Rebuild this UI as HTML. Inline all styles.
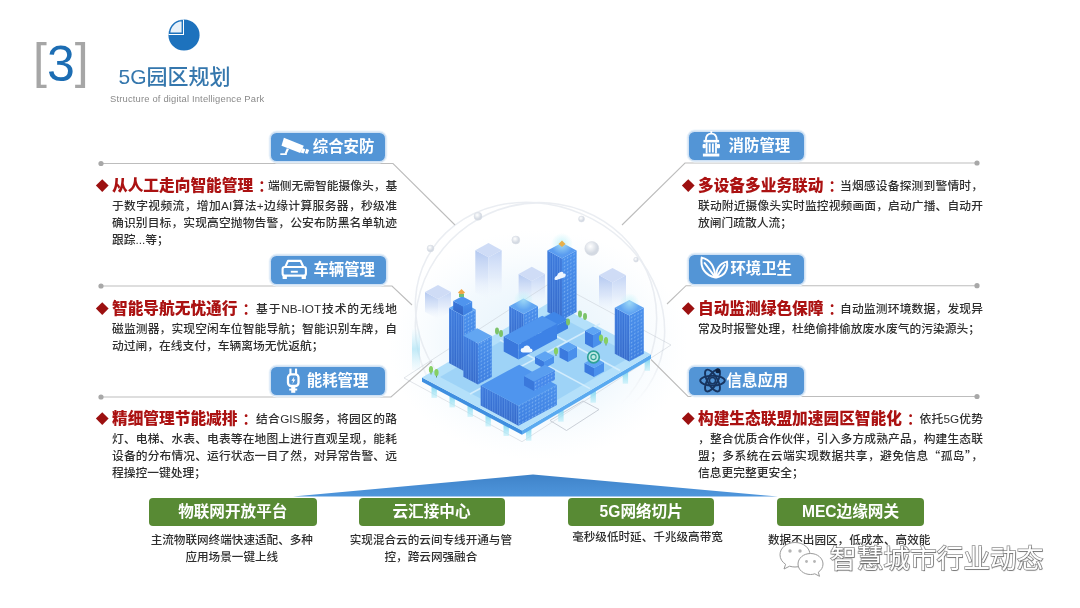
<!DOCTYPE html>
<html lang="zh-CN"><head><meta charset="utf-8"><title>5G园区规划</title>
<style>
*{margin:0;padding:0;box-sizing:border-box}
html,body{width:1080px;height:608px;overflow:hidden;background:#fff}
body{position:relative;filter:blur(.45px);font-family:"Liberation Sans","Noto Sans CJK SC",sans-serif;color:#333}
.abs{position:absolute;white-space:nowrap}
.num{left:33px;top:34px;font-size:50px;line-height:60px;color:#1c6db3;letter-spacing:0}
.num i{font-style:normal;color:#a6a6a6;font-weight:400;position:relative;top:-3px}
.ttl{left:118.5px;top:61.5px;font-size:21px;line-height:30px;color:#3577ad;font-weight:500}
.sub{left:110px;top:93px;font-size:9.4px;line-height:12px;color:#8a8a8a;letter-spacing:.18px}
.lab{height:28.2px;border-radius:5.5px;background:#5395d6;box-shadow:0 0 0 1.4px #cfe1f4,0 0 0 2.4px #eef5fb;color:#fff;font-weight:700;font-size:15.4px;line-height:28px}
.lab span{position:absolute;top:0}
.lab svg{position:absolute;left:0;top:0}
.para{font-size:11.75px;line-height:17px;color:#2e2e2e;font-weight:500}
.para b{font-size:15.7px;color:#ab1212;font-weight:900;letter-spacing:0}
.para .c{color:#ab1212;font-weight:700;font-size:14.5px;display:inline-block;width:10px;margin-left:5px}
.para .l1{height:22.3px;line-height:22px;position:relative}
.q{font-family:"Noto Sans CJK SC",sans-serif;line-height:1px}
.para .ln{height:16.9px}
.para .j{position:absolute;top:0;text-align:justify;text-align-last:justify}
.para .j2{text-align:justify;text-align-last:justify}
.dia{width:8.5px;height:8.5px;background:#9c1010;transform:rotate(45deg)}
.g{height:27.4px;border-radius:4px;background:#588a34;color:#fff;font-weight:700;font-size:15.6px;line-height:27px;text-align:center}
.gs{font-size:11.6px;line-height:16.3px;color:#2e2e2e;font-weight:500;text-align:center}
.wm{left:830px;top:541px;font-size:26.7px;line-height:36px;color:#fff;font-weight:400;-webkit-text-stroke:1.5px #909090;paint-order:stroke fill;text-shadow:.8px .8px 1px rgba(0,0,0,.28)}
</style></head><body>
<svg class="abs" style="left:0;top:0" width="1080" height="608" viewBox="0 0 1080 608">
<defs>
<linearGradient id="fl" x1="0" y1="0" x2="0" y2="1"><stop offset="0" stop-color="#3a78dc"/><stop offset="1" stop-color="#3468c8"/></linearGradient>
<linearGradient id="fr" x1="0" y1="0" x2="0" y2="1"><stop offset="0" stop-color="#4a90ec"/><stop offset="1" stop-color="#3d7ee0"/></linearGradient>
<linearGradient id="gl" x1="0" y1="0" x2="0" y2="1"><stop offset="0" stop-color="#b3c8f0"/><stop offset=".55" stop-color="#d6e2f8" stop-opacity=".8"/><stop offset="1" stop-color="#eef4fd" stop-opacity="0"/></linearGradient>
<linearGradient id="gr" x1="0" y1="0" x2="0" y2="1"><stop offset="0" stop-color="#c3d4f5"/><stop offset=".55" stop-color="#dfe9fa" stop-opacity=".8"/><stop offset="1" stop-color="#f2f7fe" stop-opacity="0"/></linearGradient>
<linearGradient id="pil" x1="0" y1="0" x2="0" y2="1"><stop offset="0" stop-color="#86d8f0"/><stop offset="1" stop-color="#b5ecf8" stop-opacity=".55"/></linearGradient>
<linearGradient id="beam" x1="0" y1="0" x2="0" y2="1"><stop offset="0" stop-color="#bfeaf8" stop-opacity="0"/><stop offset=".5" stop-color="#a9e2f5" stop-opacity=".7"/><stop offset="1" stop-color="#bfeaf8" stop-opacity=".1"/></linearGradient>
<radialGradient id="glw"><stop offset="0" stop-color="#b8f0f8" stop-opacity=".95"/><stop offset="1" stop-color="#b8f0f8" stop-opacity="0"/></radialGradient>
<radialGradient id="haze"><stop offset="0" stop-color="#dff0fb" stop-opacity=".9"/><stop offset=".6" stop-color="#e8f4fc" stop-opacity=".55"/><stop offset="1" stop-color="#f2f9fe" stop-opacity="0"/></radialGradient>
<radialGradient id="sph" cx=".4" cy=".35"><stop offset="0" stop-color="#ffffff"/><stop offset="1" stop-color="#d3d9e2"/></radialGradient>
<pattern id="st" width="2.4" height="8" patternUnits="userSpaceOnUse"><rect width="1" height="8" fill="#79aef2" opacity=".45"/></pattern>
<pattern id="dt" width="3.2" height="3.6" patternUnits="userSpaceOnUse" patternTransform="skewY(-28)"><rect x=".6" y=".8" width="1.3" height="1.5" fill="#a9d2fb" opacity=".55"/></pattern>
<linearGradient id="omg" x1="0" y1="0" x2="0" y2="1"><stop offset="0" stop-color="#fff"/><stop offset=".62" stop-color="#fff"/><stop offset=".8" stop-color="#000"/><stop offset="1" stop-color="#000"/></linearGradient>
<mask id="om" maskUnits="userSpaceOnUse" x="380" y="180" width="320" height="280"><rect x="380" y="180" width="320" height="280" fill="url(#omg)"/></mask>
</defs>
<ellipse cx="538" cy="345" rx="150" ry="115" fill="url(#haze)"/>
<g fill="none" stroke="#e4e8ee" stroke-width="1.6" opacity=".75" mask="url(#om)"><ellipse cx="540" cy="318" rx="128" ry="112" transform="rotate(28 540 318)"/><ellipse cx="536" cy="322" rx="122" ry="118" transform="rotate(-35 536 322)"/></g>
<polygon points="488.5,299.3 475.3,292.2 475.3,250.2 488.5,257.3" fill="url(#gl)"/><polygon points="488.5,299.3 501.7,292.2 501.7,250.2 488.5,257.3" fill="url(#gr)"/><polygon points="488.5,257.3 475.3,250.2 488.5,243.0 501.7,250.2" fill="#cfdcf6"/>
<polygon points="531.8,305.0 518.6,297.9 518.6,273.9 531.8,281.0" fill="url(#gl)"/><polygon points="531.8,305.0 545.0,297.9 545.0,273.9 531.8,281.0" fill="url(#gr)"/><polygon points="531.8,281.0 518.6,273.9 531.8,266.7 545.0,273.9" fill="#cfdcf6"/>
<polygon points="612.5,312.5 599.0,305.2 599.0,275.2 612.5,282.5" fill="url(#gl)"/><polygon points="612.5,312.5 626.0,305.2 626.0,275.2 612.5,282.5" fill="url(#gr)"/><polygon points="612.5,282.5 599.0,275.2 612.5,267.9 626.0,275.2" fill="#cfdcf6"/>
<polygon points="438.0,319.0 425.0,312.0 425.0,292.0 438.0,299.0" fill="url(#gl)"/><polygon points="438.0,319.0 451.0,312.0 451.0,292.0 438.0,299.0" fill="url(#gr)"/><polygon points="438.0,299.0 425.0,292.0 438.0,285.0 451.0,292.0" fill="#cfdcf6"/>
<circle cx="478" cy="216.3" r="4" fill="url(#sph)" stroke="#d9dde4" stroke-width=".5"/><circle cx="430.5" cy="248.5" r="3.4" fill="url(#sph)" stroke="#d9dde4" stroke-width=".5"/><circle cx="515.8" cy="240" r="4" fill="url(#sph)" stroke="#d9dde4" stroke-width=".5"/><circle cx="591.8" cy="248.5" r="7" fill="url(#sph)" stroke="#d9dde4" stroke-width=".5"/><circle cx="581.5" cy="219" r="3" fill="url(#sph)" stroke="#d9dde4" stroke-width=".5"/><circle cx="636" cy="259.7" r="2.4" fill="url(#sph)" stroke="#d9dde4" stroke-width=".5"/>
<rect x="412" y="328" width="8" height="42" fill="url(#beam)"/>
<g fill="none" stroke="#c4c9d2" stroke-width=".9"><polygon points="404.0,378.0 522.0,441.7 671.0,345.0 553.0,281.3" opacity=".55"/><polygon points="550.0,420.5 583.0,401.0 599.0,409.5 566.5,430.5"/></g>
<rect x="431.5" y="385.9" width="5.4" height="12" fill="url(#pil)"/><rect x="449.5" y="395.4" width="5.4" height="12" fill="url(#pil)"/><rect x="467.5" y="404.9" width="5.4" height="12" fill="url(#pil)"/><rect x="485.5" y="414.5" width="5.4" height="12" fill="url(#pil)"/><rect x="503.5" y="424.0" width="5.4" height="12" fill="url(#pil)"/><rect x="526.0" y="428.7" width="5.4" height="12" fill="url(#pil)"/><rect x="558.2" y="409.7" width="5.4" height="12" fill="url(#pil)"/><rect x="590.5" y="390.7" width="5.4" height="12" fill="url(#pil)"/><rect x="622.7" y="371.7" width="5.4" height="12" fill="url(#pil)"/><rect x="644.6" y="358.8" width="5.4" height="12" fill="url(#pil)"/>
<polygon points="422.0,377.5 522.0,430.5 522.0,434.7 422.0,381.7" fill="#3f8fe0"/><polygon points="522.0,430.5 651.0,354.5 651.0,358.7 522.0,434.7" fill="#5aaaf0"/><polygon points="422.0,377.5 522.0,430.5 651.0,354.5 551.0,301.5" fill="#b4e0fa"/>
<polygon points="440.0,377.0 522.0,420.5 633.0,355.5 551.0,312.0" fill="#9bd1f6" opacity=".9"/>
<g stroke="#d8effd" stroke-width="1.6" fill="none" opacity=".9"><polyline points="470.0,394.0 600.0,323.8"/><polyline points="500.0,340.0 590.0,388.6"/><polyline points="545.0,330.0 620.0,370.5"/></g>
<polygon points="562.0,320.0 547.4,312.1 547.4,250.6 562.0,258.5" fill="url(#fl)"/><polygon points="562.0,320.0 547.4,312.1 547.4,250.6 562.0,258.5" fill="url(#st)"/><polygon points="562.0,320.0 576.6,312.1 576.6,250.6 562.0,258.5" fill="url(#fr)"/><polygon points="562.0,320.0 576.6,312.1 576.6,250.6 562.0,258.5" fill="url(#dt)"/><polygon points="562.0,258.5 547.4,250.6 562.0,242.7 576.6,250.6" fill="#5a9cf0"/>
<circle cx="562" cy="244" r="11" fill="url(#glw)" opacity="0.8"/><polygon points="562.0,240.5 565.5,244.0 562.0,247.0 558.5,244.0" fill="#e8b04a"/><path d="M556.5,279.5 q-2.2,-.2 -2,-2.3 q.4,-2 2.5,-1.8 q.8,-2.6 3.6,-2.4 q2.8,.2 3,3 q2.2,0 2.2,1.9 q0,1.7 -2,1.7 z" fill="#eef6ff" transform="skewY(-20) translate(0 203)"/>
<polygon points="523.7,344.0 509.2,336.2 509.2,306.2 523.7,314.0" fill="url(#fl)"/><polygon points="523.7,344.0 509.2,336.2 509.2,306.2 523.7,314.0" fill="url(#st)"/><polygon points="523.7,344.0 538.0,336.3 538.0,306.3 523.7,314.0" fill="url(#fr)"/><polygon points="523.7,344.0 538.0,336.3 538.0,306.3 523.7,314.0" fill="url(#dt)"/><polygon points="523.7,314.0 509.2,306.2 523.5,298.4 538.0,306.3" fill="#62a6f2"/>
<circle cx="523.5" cy="300" r="10" fill="url(#glw)" opacity="0.7"/><polygon points="552.0,337.0 538.0,329.4 538.0,320.4 552.0,328.0" fill="#3570d6"/><polygon points="552.0,337.0 568.0,328.4 568.0,319.4 552.0,328.0" fill="#3b7fe2"/><polygon points="552.0,328.0 538.0,320.4 554.0,311.8 568.0,319.4" fill="#3f86e8"/>
<ellipse cx="580" cy="314" rx="2" ry="3.4" fill="#7cc36a"/><ellipse cx="585" cy="316.5" rx="2" ry="3.4" fill="#7cc36a"/><ellipse cx="497" cy="331" rx="2" ry="3.4" fill="#7cc36a"/><ellipse cx="501" cy="333.5" rx="2" ry="3.4" fill="#7cc36a"/><ellipse cx="568" cy="322" rx="2" ry="3.4" fill="#7cc36a"/>
<polygon points="629.3,361.6 614.8,353.8 614.8,307.8 629.3,315.6" fill="url(#fl)"/><polygon points="629.3,361.6 614.8,353.8 614.8,307.8 629.3,315.6" fill="url(#st)"/><polygon points="629.3,361.6 643.8,353.8 643.8,307.8 629.3,315.6" fill="url(#fr)"/><polygon points="629.3,361.6 643.8,353.8 643.8,307.8 629.3,315.6" fill="url(#dt)"/><polygon points="629.3,315.6 614.8,307.8 629.3,299.9 643.8,307.8" fill="#62a6f2"/>
<circle cx="629.5" cy="303" r="10" fill="url(#glw)" opacity="0.7"/><polygon points="463.7,371.0 449.0,363.1 449.0,308.1 463.7,316.0" fill="url(#fl)"/><polygon points="463.7,371.0 449.0,363.1 449.0,308.1 463.7,316.0" fill="url(#st)"/><polygon points="463.7,371.0 475.7,364.5 475.7,309.5 463.7,316.0" fill="url(#fr)"/><polygon points="463.7,371.0 475.7,364.5 475.7,309.5 463.7,316.0" fill="url(#dt)"/><polygon points="463.7,316.0 449.0,308.1 461.0,301.6 475.7,309.5" fill="#62a6f2"/>
<polygon points="463.2,315.5 453.2,310.1 453.2,301.1 463.2,306.5" fill="url(#fl)"/><polygon points="463.2,315.5 472.2,310.6 472.2,301.6 463.2,306.5" fill="url(#fr)"/><polygon points="463.2,306.5 453.2,301.1 462.2,296.2 472.2,301.6" fill="#4f94ee"/>
<polygon points="461.5,289.0 465.0,292.5 461.5,295.5 458.0,292.5" fill="#f0a646"/><rect x="459" y="294" width="5" height="3" fill="#6fbf7a"/><polygon points="478.0,384.6 463.4,376.7 463.4,335.7 478.0,343.6" fill="url(#fl)"/><polygon points="478.0,384.6 463.4,376.7 463.4,335.7 478.0,343.6" fill="url(#st)"/><polygon points="478.0,384.6 491.8,377.1 491.8,336.1 478.0,343.6" fill="url(#fr)"/><polygon points="478.0,384.6 491.8,377.1 491.8,336.1 478.0,343.6" fill="url(#dt)"/><polygon points="478.0,343.6 463.4,335.7 477.2,328.3 491.8,336.1" fill="#62a6f2"/>
<polygon points="518.5,359.5 503.7,351.5 503.7,336.5 518.5,344.5" fill="#3a78dc"/><polygon points="518.5,359.5 557.0,338.7 557.0,323.7 518.5,344.5" fill="#3d82e6"/><polygon points="518.5,344.5 503.7,336.5 542.2,315.7 557.0,323.7" fill="#4f95ee"/>
<path d="M523,352.5 q-2.4,0 -2.4,-2.3 q0,-2.2 2.6,-2.2 q.9,-2.8 3.8,-2.6 q3,.2 3.2,3.1 q2.4,0 2.4,2 q0,2 -2.2,2 z" fill="#f1f8ff"/>
<polygon points="593.0,348.0 585.0,343.7 585.0,330.7 593.0,335.0" fill="#3b7ade"/><polygon points="593.0,348.0 601.0,343.7 601.0,330.7 593.0,335.0" fill="#4a90ec"/><polygon points="593.0,335.0 585.0,330.7 593.0,326.4 601.0,330.7" fill="#5ea4f3"/>
<polygon points="544.0,368.5 535.0,363.6 535.0,356.6 544.0,361.5" fill="#3b7ade"/><polygon points="544.0,368.5 554.0,363.1 554.0,356.1 544.0,361.5" fill="#4a90ec"/><polygon points="544.0,361.5 535.0,356.6 545.0,351.2 554.0,356.1" fill="#5ea4f3"/>
<polygon points="568.0,362.0 559.5,357.4 559.5,346.9 568.0,351.5" fill="#3b7ade"/><polygon points="568.0,362.0 577.0,357.1 577.0,346.6 568.0,351.5" fill="#4a90ec"/><polygon points="568.0,351.5 559.5,346.9 568.5,342.1 577.0,346.6" fill="#5ea4f3"/>
<polygon points="594.0,377.0 584.5,371.9 584.5,362.9 594.0,368.0" fill="#3b7ade"/><polygon points="594.0,377.0 604.0,371.6 604.0,362.6 594.0,368.0" fill="#4a90ec"/><polygon points="594.0,368.0 584.5,362.9 594.5,357.5 604.0,362.6" fill="#5ea4f3"/>
<circle cx="593.5" cy="357" r="5.8" fill="#bfe9e4" stroke="#2fa196" stroke-width="1.7"/><circle cx="593.5" cy="357" r="2.6" fill="none" stroke="#2fa196" stroke-width="1.1"/>
<rect x="430.5" y="371.5" width="1" height="3" fill="#5a9a6a"/><ellipse cx="431" cy="369.5" rx="2.1" ry="3.5" fill="#86cf63"/><rect x="436.0" y="374.5" width="1" height="3" fill="#5a9a6a"/><ellipse cx="436.5" cy="372.5" rx="2.1" ry="3.5" fill="#86cf63"/><rect x="515.5" y="375" width="1" height="3" fill="#5a9a6a"/><ellipse cx="516" cy="373" rx="2.1" ry="3.5" fill="#86cf63"/><rect x="600.5" y="340" width="1" height="3" fill="#5a9a6a"/><ellipse cx="601" cy="338" rx="2.1" ry="3.5" fill="#86cf63"/><rect x="605.5" y="342.5" width="1" height="3" fill="#5a9a6a"/><ellipse cx="606" cy="340.5" rx="2.1" ry="3.5" fill="#86cf63"/><rect x="555.5" y="353" width="1" height="3" fill="#5a9a6a"/><ellipse cx="556" cy="351" rx="2.1" ry="3.5" fill="#86cf63"/>
<polygon points="531.5,393.5 523.0,388.9 523.0,380.4 531.5,385.0" fill="#3a78dc"/><polygon points="531.5,393.5 546.0,385.7 546.0,377.2 531.5,385.0" fill="#4688ea"/><polygon points="531.5,385.0 523.0,380.4 537.5,372.6 546.0,377.2" fill="#5a9ef0"/>
<polygon points="518.4,425.8 480.7,405.4 480.7,385.4 518.4,405.8" fill="url(#fl)"/><polygon points="518.4,425.8 480.7,405.4 480.7,385.4 518.4,405.8" fill="url(#st)"/><polygon points="518.4,425.8 556.9,405.0 556.9,385.0 518.4,405.8" fill="url(#fr)"/><polygon points="518.4,425.8 556.9,405.0 556.9,385.0 518.4,405.8" fill="url(#dt)"/><polygon points="518.4,405.8 480.7,385.4 519.2,364.7 556.9,385.0" fill="#4f95ee"/>
<polygon points="534.0,391.0 524.0,385.6 524.0,376.1 534.0,381.5" fill="#3a78dc"/><polygon points="534.0,391.0 555.0,379.7 555.0,370.2 534.0,381.5" fill="#4688ea"/><polygon points="534.0,391.0 555.0,379.7 555.0,370.2 534.0,381.5" fill="url(#dt)"/><polygon points="534.0,381.5 524.0,376.1 545.0,364.8 555.0,370.2" fill="#5a9ef0"/>

<!-- connector lines -->
<g fill="none" stroke="#bdbdbd" stroke-width="1.1">
<polyline points="101,163.5 393,163.5 455,225"/>
<polyline points="101,286 392,286 412,305"/>
<polyline points="101,397 391,397 432,361"/>
<polyline points="977,163 685,163 622,225"/>
<polyline points="977,285.7 686,285.7 667,304"/>
<polyline points="977,396.5 688,396.5 651,359.5"/>
</g>
<g fill="#a8a8a8">
<circle cx="101" cy="163.5" r="2.6"/><circle cx="101" cy="286" r="2.6"/><circle cx="101" cy="397" r="2.6"/>
<circle cx="977" cy="163" r="2.6"/><circle cx="977" cy="285.7" r="2.6"/><circle cx="977" cy="396.5" r="2.6"/>
</g>
<!-- blue triangle -->
<defs><linearGradient id="tri" x1="0" y1="0" x2="0" y2="1"><stop offset="0" stop-color="#3f83c9"/><stop offset="1" stop-color="#4f96dc"/></linearGradient></defs>
<polygon points="293,496.6 533,474.6 778,496.6" fill="url(#tri)"/>
<!-- pie icon -->
<circle cx="184" cy="35" r="15.6" fill="#1d72bd"/>
<path d="M184,35 L184,19.4 A15.6,15.6 0 0 0 168.4,35 Z" fill="#fff"/>
<path d="M182.3,33.3 L182.3,20.6 A13,13 0 0 0 169.6,33.3 Z" fill="#e8f1f9" stroke="#1d72bd" stroke-width="1.4"/>
</svg>

<div class="abs num"><i>[</i>3<i>]</i></div>
<div class="abs ttl">5G园区规划</div>
<div class="abs sub">Structure of digital Intelligence Park</div>
<div class="abs lab" style="left:270.8px;top:132.8px;width:114.2px"><svg width="46" height="30" viewBox="0 0 46 30" style="left:0;top:0;overflow:visible"><g fill="#fff"><path d="M12.9 4.8 L32.8 12.7 L29.2 19.9 L10.5 12.7 Z"/><path d="M31.3 15 L34.4 16.2 L32.6 20.6 L29.7 19.4 Z"/><path d="M35.4 15.7 L38.2 16.9 L36.4 21.1 L33.8 20 Z"/><path d="M15.8 15.2 L18 16 L15.6 21 L13.6 20.4 Z"/><rect x="9.3" y="20.3" width="6.5" height="1.7"/></g></svg><span style="left:42px">综合安防</span></div>
<div class="abs lab" style="left:271.4px;top:255.6px;width:114.2px"><svg width="46" height="30" viewBox="0 0 46 30" style="left:0;top:0;overflow:visible"><g fill="none" stroke="#fff" stroke-width="2.1" stroke-linejoin="round"><path d="M14.3 11 L17 4.9 H29.6 L32.4 11"/><rect x="11.6" y="11" width="23.3" height="8.6" rx="2.2"/></g><g fill="#fff"><rect x="19.8" y="14.8" width="7" height="1.9"/><rect x="11.6" y="19.5" width="4.3" height="3.6" rx=".6"/><rect x="30.6" y="19.5" width="4.3" height="3.6" rx=".6"/></g></svg><span style="left:42px">车辆管理</span></div>
<div class="abs lab" style="left:270.8px;top:367px;width:114.2px"><svg width="46" height="30" viewBox="0 0 46 30" style="left:0;top:0;overflow:visible"><g fill="none" stroke="#fff" stroke-width="2.3"><rect x="17" y="7.4" width="10.5" height="11.6" rx="3.2"/></g><g fill="#fff"><rect x="18.4" y="1.6" width="2.1" height="6"/><rect x="24" y="1.6" width="2.1" height="6"/><rect x="20.2" y="19.4" width="4.1" height="6.4"/><rect x="18.2" y="21.6" width="8" height="1.9"/><path d="M23.4 9.6 L20.4 13.8 H22.2 L21.4 17 L24.4 12.6 H22.6 Z"/></g></svg><span style="left:36px">能耗管理</span></div>
<div class="abs lab" style="left:689px;top:132.3px;width:114.5px"><svg width="46" height="30" viewBox="0 0 46 30" style="left:0;top:0;overflow:visible"><g fill="none" stroke="#fff" stroke-width="1.8"><path d="M16.9 8 Q16.9 1.6 22.3 1.6 Q27.7 1.6 27.7 8"/><path d="M17.6 10.6 V21.4 M27 10.6 V21.4 M20.7 11.6 V20.4 M23.9 11.6 V20.4"/></g><g fill="#fff"><rect x="21.4" y="-1" width="1.8" height="3"/><rect x="14.5" y="7.9" width="15.6" height="2.5"/><rect x="13.9" y="21.6" width="16.4" height="2.9"/><rect x="13.6" y="12" width="3.2" height="4.2" rx="1"/><rect x="27.8" y="12" width="3.2" height="4.2" rx="1"/></g></svg><span style="left:39.6px">消防管理</span></div>
<div class="abs lab" style="left:689px;top:255.4px;width:114.5px"><svg width="46" height="30" viewBox="0 0 46 30" style="left:0;top:0;overflow:visible"><g fill="none" stroke="#fff" stroke-width="2" stroke-linejoin="round" stroke-linecap="round"><path d="M12.7 2.6 C20.5 4.5 25.8 10.5 26.3 22.6 C17 20.5 10.8 13.5 12.7 2.6 Z"/><path d="M15.6 8 L25.6 21.4"/><path d="M27.4 22.6 C26.8 14 30.5 8.6 38 6.6 C39 14.5 35.5 20.6 27.4 22.6 Z"/><path d="M35.6 10 L28 21.4"/></g></svg><span style="left:41.4px">环境卫生</span></div>
<div class="abs lab" style="left:689px;top:366.5px;width:114.5px"><svg width="46" height="30" viewBox="0 0 46 30" style="left:0;top:0;overflow:visible"><g fill="none" stroke="#17345f" stroke-width="1.9"><ellipse cx="23.5" cy="13.6" rx="12.3" ry="4.9"/><ellipse cx="23.5" cy="13.6" rx="12.3" ry="4.9" transform="rotate(60 23.5 13.6)"/><ellipse cx="23.5" cy="13.6" rx="12.3" ry="4.9" transform="rotate(120 23.5 13.6)"/><circle cx="23.5" cy="13.6" r="3.1" stroke-width="1.6"/></g><circle cx="28.9" cy="3.8" r="2.5" fill="#10223f"/></svg><span style="left:37.6px">信息应用</span></div>
<div class="abs dia" style="left:97.7px;top:180.89999999999998px"></div>
<div class="abs para" style="left:112px;top:175.2px;width:285px"><div class="l1"><b>从人工走向智能管理</b><span class="c">：</span><span class="j" style="left:156px;width:129px">端侧无需智能摄像头，基</span></div><div class="ln j2">于数字视频流，增加AI算法+边缘计算服务器，秒级准</div><div class="ln j2">确识别目标，实现高空抛物告警，公安布防黑名单轨迹</div><div class="ln">跟踪...等；</div></div>
<div class="abs dia" style="left:97.7px;top:303.9px"></div>
<div class="abs para" style="left:112px;top:298.2px;width:285px"><div class="l1"><b>智能导航无忧通行</b><span class="c">：</span><span class="j" style="left:144px;width:141px">基于NB-IOT技术的无线地</span></div><div class="ln j2">磁监测器，实现空闲车位智能导航；智能识别车牌，自</div><div class="ln">动过闸，在线支付，车辆离场无忧返航；</div></div>
<div class="abs dia" style="left:97.7px;top:413.9px"></div>
<div class="abs para" style="left:112px;top:408.2px;width:285px"><div class="l1"><b>精细管理节能减排</b><span class="c">：</span><span class="j" style="left:144px;width:141px">结合GIS服务，将园区的路</span></div><div class="ln j2">灯、电梯、水表、电表等在地图上进行直观呈现，能耗</div><div class="ln j2">设备的分布情况、运行状态一目了然，对异常告警、远</div><div class="ln">程操控一键处理；</div></div>
<div class="abs dia" style="left:683.7px;top:180.89999999999998px"></div>
<div class="abs para" style="left:698px;top:175.2px;width:285px"><div class="l1"><b>多设备多业务联动</b><span class="c">：</span><span class="j" style="left:142px;width:143px">当烟感设备探测到警情时，</span></div><div class="ln j2">联动附近摄像头实时监控视频画面，启动广播、自动开</div><div class="ln">放闸门疏散人流；</div></div>
<div class="abs dia" style="left:683.7px;top:303.9px"></div>
<div class="abs para" style="left:698px;top:298.2px;width:285px"><div class="l1"><b>自动监测绿色保障</b><span class="c">：</span><span class="j" style="left:142px;width:143px">自动监测环境数据，发现异</span></div><div class="ln">常及时报警处理，杜绝偷排偷放废水废气的污染源头；</div></div>
<div class="abs dia" style="left:683.7px;top:413.9px"></div>
<div class="abs para" style="left:698px;top:408.2px;width:285px"><div class="l1"><b>构建生态联盟加速园区智能化</b><span class="c">：</span><span class="j" style="left:221.5px;width:63.5px">依托5G优势</span></div><div class="ln j2">，整合优质合作伙伴，引入多方成熟产品，构建生态联</div><div class="ln j2">盟；多系统在云端实现数据共享，避免信息<span class="q">“</span>孤岛<span class="q">”</span>，</div><div class="ln">信息更完整更安全；</div></div>
<div class="abs g" style="left:149px;top:498.2px;width:167.5px">物联网开放平台</div>
<div class="abs gs" style="left:131.8px;top:532.3px;width:200px">主流物联网终端快速适配、多种<br>应用场景一键上线</div>
<div class="abs g" style="left:358.5px;top:498.2px;width:146px">云汇接中心</div>
<div class="abs gs" style="left:330.9px;top:532.3px;width:200px">实现混合云的云间专线开通与管<br>控，跨云网强融合</div>
<div class="abs g" style="left:568px;top:498.2px;width:146.4px">5G网络切片</div>
<div class="abs gs" style="left:547.5px;top:529.3px;width:200px">毫秒级低时延、千兆级高带宽</div>
<div class="abs g" style="left:777.3px;top:498.2px;width:146.4px">MEC边缘网关</div>
<div class="abs gs" style="left:749.2px;top:532.3px;width:200px">数据不出园区，低成本、高效能</div>
<svg class="abs" style="left:778px;top:540px" width="48" height="38" viewBox="0 0 48 38"><g fill="#fff" stroke="#9a9a9a" stroke-width="1"><path d="M17 2.5 C8.5 2.5 2 8 2 14.8 C2 18.7 4.2 22.1 7.6 24.3 L6 29 L11.6 26.2 C13.3 26.7 15.1 27 17 27 C25.5 27 32 21.5 32 14.8 C32 8 25.5 2.5 17 2.5 Z"/><path d="M32.5 13.5 C25.6 13.5 20 18.2 20 24 C20 29.8 25.6 34.5 32.5 34.5 C34 34.5 35.5 34.3 36.8 33.8 L41.5 36.3 L40.3 32.2 C43.2 30.3 45 27.3 45 24 C45 18.2 39.4 13.5 32.5 13.5 Z"/></g><g fill="#b5b5b5"><circle cx="12" cy="11" r="1.7"/><circle cx="22" cy="11" r="1.7"/><circle cx="28.5" cy="21.5" r="1.4"/><circle cx="36.5" cy="21.5" r="1.4"/></g></svg>
<div class="abs wm">智慧城市行业动态</div>
</body></html>
